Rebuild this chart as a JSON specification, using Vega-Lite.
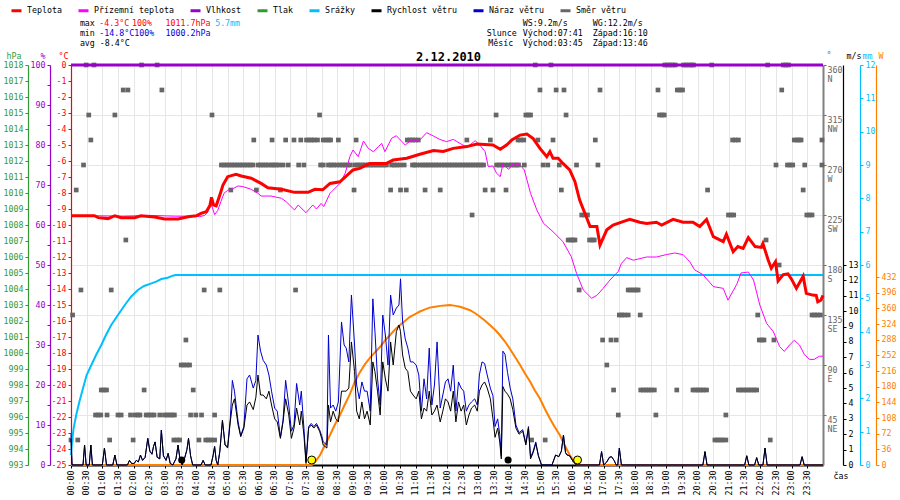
{
"$schema": "https://vega.github.io/schema/vega-lite/v6.json",
"width": 752, "height": 400,
"autosize": {"type": "none"},
"padding": {"left": 71, "top": 65, "right": 77, "bottom": 35},
"background": "#ffffff",
"config": {
  "view": {"stroke": null},
  "font": "DejaVu Sans Mono",
  "axis": {"labelFont": "DejaVu Sans Mono", "labelFontSize": 8.3, "titleFont": "DejaVu Sans Mono", "titleFontSize": 8.3, "titleFontWeight": "normal", "tickSize": 3, "labelPadding": 2, "labelOverlap": false, "labelFlush": false, "grid": false, "domainWidth": 1.2, "tickWidth": 1}
},
"datasets": {
  "hum": [{"m": 0, "h": 100}, {"m": 1440, "h": 100}],
  "pres": [{"m": 0, "hpa": 1005}],
  "rain": [{"m":0,"mm":0.3},{"m":2,"mm":0.7},{"m":5,"mm":1.1},{"m":10,"mm":1.5},{"m":16,"mm":1.9},{"m":23,"mm":2.3},{"m":30,"mm":2.7},{"m":39,"mm":3.0},{"m":48,"mm":3.3},{"m":58,"mm":3.6},{"m":67,"mm":3.9},{"m":77,"mm":4.2},{"m":90,"mm":4.5},{"m":103,"mm":4.8},{"m":115,"mm":5.05},{"m":128,"mm":5.25},{"m":140,"mm":5.37},{"m":154,"mm":5.45},{"m":163,"mm":5.5},{"m":173,"mm":5.58},{"m":185,"mm":5.62},{"m":195,"mm":5.68},{"m":200,"mm":5.7},{"m":1440,"mm":5.7}],
  "sol": [{"m":0,"w":0},{"m":461,"w":0},{"m":468,"w":8},{"m":477,"w":23},{"m":486,"w":45},{"m":496,"w":69},{"m":505,"w":92},{"m":515,"w":115},{"m":524,"w":138},{"m":534,"w":163},{"m":543,"w":190},{"m":553,"w":213},{"m":563,"w":232},{"m":572,"w":246},{"m":582,"w":259},{"m":592,"w":272},{"m":601,"w":286},{"m":611,"w":299},{"m":620,"w":311},{"m":630,"w":322},{"m":640,"w":332},{"m":649,"w":341},{"m":659,"w":347},{"m":668,"w":353},{"m":678,"w":358},{"m":687,"w":362},{"m":697,"w":364},{"m":707,"w":366},{"m":716,"w":367},{"m":726,"w":368},{"m":736,"w":366},{"m":745,"w":364},{"m":755,"w":360},{"m":764,"w":356},{"m":774,"w":349},{"m":783,"w":341},{"m":793,"w":332},{"m":802,"w":322},{"m":812,"w":311},{"m":821,"w":299},{"m":831,"w":284},{"m":840,"w":268},{"m":850,"w":249},{"m":860,"w":230},{"m":869,"w":211},{"m":879,"w":192},{"m":888,"w":172},{"m":898,"w":153},{"m":907,"w":130},{"m":917,"w":107},{"m":926,"w":88},{"m":936,"w":69},{"m":945,"w":46},{"m":955,"w":23},{"m":962,"w":10},{"m":970,"w":0},{"m":1440,"w":0}],
  "sun": [{"m":461,"w":11.5},{"m":970,"w":11.5}],
  "moon": [{"m":212,"w":11.5},{"m":837,"w":11.5}],
  "temp": [{"m":0,"v":-9.42},{"m":20,"v":-9.42},{"m":45,"v":-9.42},{"m":52,"v":-9.54},{"m":71,"v":-9.6},{"m":84,"v":-9.42},{"m":96,"v":-9.54},{"m":122,"v":-9.54},{"m":134,"v":-9.42},{"m":160,"v":-9.5},{"m":179,"v":-9.63},{"m":205,"v":-9.63},{"m":224,"v":-9.48},{"m":240,"v":-9.42},{"m":249,"v":-9.27},{"m":259,"v":-9.17},{"m":266,"v":-8.79},{"m":269,"v":-8.27},{"m":273,"v":-8.75},{"m":278,"v":-8.8},{"m":285,"v":-8.12},{"m":291,"v":-7.5},{"m":300,"v":-6.98},{"m":316,"v":-6.83},{"m":326,"v":-6.94},{"m":345,"v":-7.08},{"m":364,"v":-7.4},{"m":377,"v":-7.67},{"m":403,"v":-7.77},{"m":428,"v":-7.96},{"m":454,"v":-7.96},{"m":467,"v":-7.77},{"m":482,"v":-7.8},{"m":496,"v":-7.4},{"m":515,"v":-7.3},{"m":540,"v":-6.56},{"m":553,"v":-6.46},{"m":572,"v":-6.15},{"m":604,"v":-6.15},{"m":617,"v":-5.94},{"m":643,"v":-5.83},{"m":668,"v":-5.58},{"m":694,"v":-5.35},{"m":713,"v":-5.4},{"m":732,"v":-5.21},{"m":758,"v":-5.1},{"m":777,"v":-4.94},{"m":808,"v":-5.0},{"m":822,"v":-5.27},{"m":834,"v":-5.0},{"m":844,"v":-4.69},{"m":860,"v":-4.38},{"m":873,"v":-4.31},{"m":885,"v":-4.6},{"m":898,"v":-5.21},{"m":911,"v":-5.73},{"m":917,"v":-5.42},{"m":923,"v":-5.83},{"m":933,"v":-5.83},{"m":942,"v":-6.15},{"m":955,"v":-6.56},{"m":965,"v":-7.29},{"m":974,"v":-8.44},{"m":984,"v":-9.27},{"m":994,"v":-10.1},{"m":1007,"v":-10.1},{"m":1013,"v":-11.25},{"m":1026,"v":-10.3},{"m":1038,"v":-10.0},{"m":1057,"v":-9.79},{"m":1070,"v":-9.65},{"m":1089,"v":-9.83},{"m":1102,"v":-9.9},{"m":1121,"v":-9.83},{"m":1131,"v":-10.0},{"m":1153,"v":-9.65},{"m":1172,"v":-9.83},{"m":1191,"v":-9.83},{"m":1204,"v":-10.1},{"m":1217,"v":-9.65},{"m":1230,"v":-10.73},{"m":1249,"v":-11.04},{"m":1255,"v":-10.58},{"m":1268,"v":-11.67},{"m":1277,"v":-11.35},{"m":1287,"v":-11.46},{"m":1297,"v":-10.79},{"m":1310,"v":-11.35},{"m":1322,"v":-11.4},{"m":1325,"v":-11.15},{"m":1335,"v":-12.19},{"m":1341,"v":-12.7},{"m":1349,"v":-12.3},{"m":1354,"v":-13.5},{"m":1364,"v":-13.1},{"m":1373,"v":-13.05},{"m":1380,"v":-13.4},{"m":1389,"v":-13.96},{"m":1402,"v":-13.2},{"m":1408,"v":-14.27},{"m":1420,"v":-14.38},{"m":1427,"v":-14.4},{"m":1430,"v":-14.8},{"m":1436,"v":-14.7},{"m":1440,"v":-14.4}],
  "feel": [{"m":0,"v":-9.4},{"m":100,"v":-9.45},{"m":150,"v":-9.4},{"m":200,"v":-9.45},{"m":240,"v":-9.45},{"m":246,"v":-9.48},{"m":256,"v":-9.4},{"m":262,"v":-9.2},{"m":267,"v":-8.54},{"m":275,"v":-9.35},{"m":281,"v":-9.1},{"m":287,"v":-8.54},{"m":293,"v":-8.02},{"m":300,"v":-7.83},{"m":310,"v":-7.73},{"m":320,"v":-7.56},{"m":329,"v":-7.6},{"m":345,"v":-7.77},{"m":358,"v":-8.02},{"m":364,"v":-8.19},{"m":383,"v":-8.19},{"m":403,"v":-8.33},{"m":412,"v":-8.54},{"m":428,"v":-9.06},{"m":435,"v":-8.75},{"m":450,"v":-9.23},{"m":463,"v":-8.75},{"m":470,"v":-9.0},{"m":479,"v":-8.65},{"m":484,"v":-8.85},{"m":496,"v":-8.02},{"m":515,"v":-7.4},{"m":525,"v":-6.77},{"m":534,"v":-5.73},{"m":540,"v":-5.31},{"m":550,"v":-5.73},{"m":560,"v":-4.75},{"m":569,"v":-5.2},{"m":579,"v":-5.42},{"m":595,"v":-4.9},{"m":601,"v":-5.42},{"m":614,"v":-4.58},{"m":623,"v":-4.42},{"m":640,"v":-5.0},{"m":652,"v":-4.69},{"m":668,"v":-4.69},{"m":681,"v":-4.23},{"m":694,"v":-4.44},{"m":706,"v":-4.65},{"m":719,"v":-4.79},{"m":732,"v":-4.65},{"m":745,"v":-4.9},{"m":758,"v":-5.15},{"m":774,"v":-4.73},{"m":783,"v":-5.0},{"m":793,"v":-5.42},{"m":799,"v":-6.35},{"m":808,"v":-6.31},{"m":815,"v":-6.77},{"m":822,"v":-6.98},{"m":827,"v":-6.19},{"m":838,"v":-6.52},{"m":847,"v":-6.15},{"m":860,"v":-6.25},{"m":868,"v":-6.56},{"m":880,"v":-8.02},{"m":892,"v":-9.06},{"m":905,"v":-9.9},{"m":923,"v":-10.42},{"m":942,"v":-11.04},{"m":958,"v":-11.98},{"m":968,"v":-13.02},{"m":981,"v":-14.06},{"m":997,"v":-14.58},{"m":1007,"v":-14.4},{"m":1019,"v":-13.96},{"m":1032,"v":-13.44},{"m":1048,"v":-12.9},{"m":1054,"v":-12.4},{"m":1064,"v":-12.04},{"m":1077,"v":-12.2},{"m":1102,"v":-12.0},{"m":1121,"v":-12.0},{"m":1140,"v":-11.85},{"m":1156,"v":-11.75},{"m":1172,"v":-11.85},{"m":1185,"v":-12.3},{"m":1194,"v":-12.8},{"m":1210,"v":-13.1},{"m":1230,"v":-13.85},{"m":1249,"v":-13.96},{"m":1258,"v":-14.7},{"m":1275,"v":-13.7},{"m":1283,"v":-13.0},{"m":1297,"v":-12.94},{"m":1307,"v":-13.44},{"m":1319,"v":-15.0},{"m":1332,"v":-16.15},{"m":1345,"v":-16.67},{"m":1357,"v":-17.6},{"m":1366,"v":-17.9},{"m":1376,"v":-17.5},{"m":1385,"v":-17.2},{"m":1395,"v":-17.5},{"m":1404,"v":-18.08},{"m":1414,"v":-18.4},{"m":1423,"v":-18.4},{"m":1433,"v":-18.2},{"m":1440,"v":-18.2}],
  "wind": [{"m":0,"ws":1.7,"wg":2.0},{"m":2,"ws":0,"wg":0},{"m":23,"ws":0,"wg":0},{"m":26,"ws":1.3,"wg":1.3},{"m":29,"ws":0,"wg":0},{"m":35,"ws":0,"wg":0},{"m":38,"ws":1.3,"wg":1.3},{"m":41,"ws":0,"wg":0},{"m":60,"ws":0,"wg":0},{"m":64,"ws":1.1,"wg":1.1},{"m":68,"ws":0,"wg":0},{"m":80,"ws":0,"wg":0},{"m":84,"ws":0.65,"wg":0.65},{"m":88,"ws":0,"wg":0},{"m":108,"ws":0,"wg":0},{"m":112,"ws":0.3,"wg":0.3},{"m":116,"ws":0.1,"wg":0.1},{"m":121,"ws":0.1,"wg":0.1},{"m":125,"ws":0.3,"wg":0.3},{"m":129,"ws":0.2,"wg":0.2},{"m":133,"ws":0.65,"wg":0.65},{"m":137,"ws":0.3,"wg":0.3},{"m":142,"ws":0.5,"wg":0.5},{"m":147,"ws":1.73,"wg":1.73},{"m":151,"ws":0.9,"wg":0.9},{"m":155,"ws":0.7,"wg":0.7},{"m":158,"ws":1.2,"wg":1.2},{"m":161,"ws":1.5,"wg":1.5},{"m":165,"ws":0.5,"wg":0.5},{"m":170,"ws":0.4,"wg":0.4},{"m":173,"ws":2.27,"wg":2.27},{"m":177,"ws":0.6,"wg":0.6},{"m":182,"ws":0.3,"wg":0.3},{"m":186,"ws":0.76,"wg":0.76},{"m":190,"ws":0.1,"wg":0.1},{"m":195,"ws":0,"wg":0},{"m":201,"ws":0.4,"wg":0.4},{"m":205,"ws":1.3,"wg":1.3},{"m":209,"ws":0.3,"wg":0.3},{"m":213,"ws":0,"wg":0},{"m":218,"ws":0.5,"wg":0.5},{"m":222,"ws":1.0,"wg":1.0},{"m":225,"ws":1.73,"wg":1.73},{"m":229,"ws":0.6,"wg":0.6},{"m":233,"ws":0,"wg":0},{"m":249,"ws":0,"wg":0},{"m":253,"ws":0.3,"wg":0.3},{"m":257,"ws":0,"wg":0},{"m":268,"ws":0,"wg":0},{"m":272,"ws":0.6,"wg":0.6},{"m":275,"ws":1.2,"wg":1.2},{"m":278,"ws":0.3,"wg":0.3},{"m":281,"ws":0,"wg":0},{"m":285,"ws":0.87,"wg":0.9},{"m":290,"ws":2.9,"wg":2.9},{"m":295,"ws":1.3,"wg":1.3},{"m":300,"ws":1.1,"wg":1.2},{"m":305,"ws":2.8,"wg":3.0},{"m":309,"ws":3.9,"wg":5.5},{"m":313,"ws":4.3,"wg":4.8},{"m":320,"ws":2.6,"wg":2.8},{"m":325,"ws":1.84,"wg":1.9},{"m":331,"ws":2.4,"wg":2.5},{"m":337,"ws":3.9,"wg":5.6},{"m":342,"ws":4.1,"wg":5.85},{"m":349,"ws":3.6,"wg":5.0},{"m":354,"ws":4.4,"wg":5.5},{"m":358,"ws":5.85,"wg":8.45},{"m":363,"ws":4.55,"wg":7.4},{"m":368,"ws":4.55,"wg":6.8},{"m":374,"ws":4.3,"wg":6.5},{"m":379,"ws":4.8,"wg":5.85},{"m":384,"ws":3.9,"wg":4.8},{"m":390,"ws":3.0,"wg":3.7},{"m":395,"ws":2.8,"wg":3.5},{"m":401,"ws":1.73,"wg":1.8},{"m":406,"ws":2.8,"wg":2.9},{"m":411,"ws":4.3,"wg":5.5},{"m":417,"ws":3.25,"wg":3.9},{"m":422,"ws":1.73,"wg":2.2},{"m":427,"ws":2.4,"wg":2.6},{"m":432,"ws":3.7,"wg":5.3},{"m":438,"ws":2.6,"wg":3.9},{"m":441,"ws":3.5,"wg":4.8},{"m":446,"ws":1.95,"wg":2.4},{"m":450,"ws":0.1,"wg":0.2},{"m":455,"ws":2.4,"wg":2.5},{"m":460,"ws":2.6,"wg":2.7},{"m":465,"ws":2.4,"wg":2.5},{"m":470,"ws":2.6,"wg":2.7},{"m":476,"ws":2.2,"wg":2.3},{"m":480,"ws":1.73,"wg":1.9},{"m":483,"ws":1.3,"wg":1.5},{"m":490,"ws":1.1,"wg":1.3},{"m":493,"ws":3.9,"wg":8.45},{"m":497,"ws":2.8,"wg":3.7},{"m":502,"ws":3.5,"wg":3.9},{"m":507,"ws":3.0,"wg":3.5},{"m":512,"ws":2.8,"wg":4.1},{"m":518,"ws":4.8,"wg":9.3},{"m":523,"ws":4.8,"wg":7.8},{"m":527,"ws":4.8,"wg":7.6},{"m":532,"ws":5.0,"wg":6.7},{"m":537,"ws":8.0,"wg":11.05},{"m":543,"ws":6.07,"wg":7.8},{"m":547,"ws":3.5,"wg":5.2},{"m":552,"ws":3.0,"wg":4.3},{"m":557,"ws":4.1,"wg":5.4},{"m":562,"ws":3.0,"wg":4.8},{"m":567,"ws":3.5,"wg":4.8},{"m":573,"ws":2.6,"wg":3.5},{"m":578,"ws":6.7,"wg":10.8},{"m":582,"ws":6.07,"wg":8.7},{"m":587,"ws":4.8,"wg":5.6},{"m":592,"ws":3.25,"wg":3.9},{"m":597,"ws":6.7,"wg":9.75},{"m":602,"ws":5.6,"wg":8.45},{"m":607,"ws":4.8,"wg":6.5},{"m":612,"ws":8.0,"wg":11.05},{"m":617,"ws":6.5,"wg":9.75},{"m":623,"ws":8.67,"wg":10.2},{"m":628,"ws":9.1,"wg":10.4},{"m":631,"ws":8.67,"wg":12.1},{"m":635,"ws":7.15,"wg":9.3},{"m":640,"ws":6.3,"wg":8.2},{"m":645,"ws":6.07,"wg":7.6},{"m":650,"ws":4.8,"wg":6.7},{"m":655,"ws":4.55,"wg":6.7},{"m":661,"ws":4.3,"wg":6.5},{"m":666,"ws":4.8,"wg":5.85},{"m":671,"ws":3.0,"wg":3.5},{"m":676,"ws":3.7,"wg":5.6},{"m":681,"ws":3.5,"wg":4.3},{"m":686,"ws":4.8,"wg":7.6},{"m":691,"ws":3.25,"wg":3.9},{"m":696,"ws":3.5,"wg":5.2},{"m":701,"ws":3.9,"wg":8.0},{"m":707,"ws":2.8,"wg":3.7},{"m":712,"ws":3.5,"wg":4.55},{"m":717,"ws":4.3,"wg":5.4},{"m":722,"ws":4.1,"wg":5.6},{"m":727,"ws":3.5,"wg":4.8},{"m":732,"ws":4.8,"wg":6.5},{"m":737,"ws":2.8,"wg":3.5},{"m":742,"ws":4.1,"wg":5.4},{"m":747,"ws":3.5,"wg":5.0},{"m":752,"ws":3.9,"wg":4.8},{"m":757,"ws":2.6,"wg":3.5},{"m":762,"ws":3.25,"wg":3.9},{"m":767,"ws":3.7,"wg":4.1},{"m":773,"ws":3.9,"wg":4.3},{"m":778,"ws":3.5,"wg":3.9},{"m":782,"ws":4.8,"wg":5.85},{"m":787,"ws":5.2,"wg":6.7},{"m":792,"ws":5.4,"wg":6.6},{"m":797,"ws":5.0,"wg":5.85},{"m":803,"ws":4.3,"wg":5.0},{"m":808,"ws":3.0,"wg":4.5},{"m":812,"ws":1.8,"wg":2.5},{"m":817,"ws":2.4,"wg":3.0},{"m":821,"ws":1.5,"wg":2.0},{"m":824,"ws":0.4,"wg":0.6},{"m":827,"ws":5.1,"wg":7.4},{"m":831,"ws":4.8,"wg":7.2},{"m":836,"ws":4.6,"wg":6.0},{"m":841,"ws":4.3,"wg":5.0},{"m":846,"ws":3.6,"wg":4.3},{"m":852,"ws":2.4,"wg":2.6},{"m":858,"ws":2.0,"wg":2.1},{"m":865,"ws":2.2,"wg":2.3},{"m":871,"ws":1.3,"wg":1.4},{"m":876,"ws":2.4,"wg":2.5},{"m":880,"ws":0.4,"wg":0.5},{"m":885,"ws":0.8,"wg":0.9},{"m":890,"ws":1.4,"wg":1.5},{"m":895,"ws":0.6,"wg":0.6},{"m":901,"ws":0,"wg":0},{"m":921,"ws":0,"wg":0},{"m":928,"ws":0.65,"wg":0.65},{"m":934,"ws":0.54,"wg":0.54},{"m":939,"ws":0.9,"wg":0.9},{"m":943,"ws":1.95,"wg":1.95},{"m":947,"ws":0.8,"wg":0.8},{"m":950,"ws":0.65,"wg":0.65},{"m":955,"ws":0.6,"wg":0.6},{"m":962,"ws":0.2,"wg":0.2},{"m":968,"ws":0,"wg":0},{"m":1012,"ws":0,"wg":0},{"m":1016,"ws":0.87,"wg":0.87},{"m":1020,"ws":0,"wg":0},{"m":1026,"ws":0.2,"wg":0.2},{"m":1031,"ws":0.5,"wg":0.5},{"m":1035,"ws":0.54,"wg":0.54},{"m":1040,"ws":0.3,"wg":0.3},{"m":1044,"ws":0,"wg":0},{"m":1047,"ws":0,"wg":0},{"m":1050,"ws":1.1,"wg":1.1},{"m":1054,"ws":0,"wg":0},{"m":1210,"ws":0,"wg":0},{"m":1214,"ws":0.87,"wg":0.87},{"m":1218,"ws":0,"wg":0},{"m":1290,"ws":0,"wg":0},{"m":1294,"ws":0.6,"wg":0.6},{"m":1298,"ws":0,"wg":0},{"m":1309,"ws":0,"wg":0},{"m":1313,"ws":0.48,"wg":0.48},{"m":1317,"ws":0,"wg":0},{"m":1325,"ws":0,"wg":0},{"m":1329,"ws":1.1,"wg":1.1},{"m":1333,"ws":0,"wg":0},{"m":1396,"ws":0,"wg":0},{"m":1400,"ws":0.54,"wg":0.54},{"m":1404,"ws":0,"wg":0},{"m":1440,"ws":0,"wg":0}],
  "dir": [{"m":0,"d":22.5},{"m":3,"d":135},{"m":10,"d":247.5},{"m":13,"d":22.5},{"m":19,"d":157.5},{"m":24,"d":270},{"m":29,"d":360},{"m":34,"d":315},{"m":38,"d":292.5},{"m":44,"d":360},{"m":47,"d":45},{"m":52,"d":45},{"m":57,"d":45},{"m":58,"d":67.5},{"m":63,"d":67.5},{"m":68,"d":67.5},{"m":69,"d":45},{"m":74,"d":22.5},{"m":77,"d":157.5},{"m":84,"d":315},{"m":90,"d":45},{"m":96,"d":45},{"m":100,"d":337.5},{"m":105,"d":202.5},{"m":109,"d":337.5},{"m":114,"d":45},{"m":119,"d":22.5},{"m":123,"d":45},{"m":128,"d":45},{"m":132,"d":45},{"m":135,"d":360},{"m":140,"d":67.5},{"m":144,"d":45},{"m":149,"d":45},{"m":154,"d":45},{"m":159,"d":45},{"m":165,"d":360},{"m":170,"d":45},{"m":174,"d":337.5},{"m":179,"d":45},{"m":184,"d":45},{"m":189,"d":45},{"m":194,"d":45},{"m":198,"d":45},{"m":197,"d":22.5},{"m":203,"d":22.5},{"m":208,"d":22.5},{"m":211,"d":90},{"m":216,"d":90},{"m":220,"d":112.5},{"m":222,"d":90},{"m":227,"d":90},{"m":229,"d":45},{"m":234,"d":67.5},{"m":239,"d":45},{"m":245,"d":22.5},{"m":250,"d":45},{"m":255,"d":157.5},{"m":258,"d":22.5},{"m":263,"d":22.5},{"m":268,"d":22.5},{"m":270,"d":315},{"m":275,"d":22.5},{"m":275,"d":45},{"m":285,"d":157.5},{"m":288,"d":270},{"m":293,"d":270},{"m":298,"d":270},{"m":303,"d":270},{"m":308,"d":270},{"m":313,"d":270},{"m":318,"d":270},{"m":323,"d":270},{"m":328,"d":270},{"m":333,"d":270},{"m":338,"d":270},{"m":343,"d":270},{"m":348,"d":270},{"m":306,"d":247.5},{"m":350,"d":292.5},{"m":355,"d":247.5},{"m":358,"d":270},{"m":363,"d":270},{"m":368,"d":270},{"m":373,"d":270},{"m":378,"d":270},{"m":384,"d":270},{"m":388,"d":270},{"m":393,"d":270},{"m":398,"d":270},{"m":406,"d":270},{"m":416,"d":270},{"m":436,"d":270},{"m":446,"d":270},{"m":385,"d":292.5},{"m":401,"d":247.5},{"m":411,"d":292.5},{"m":427,"d":292.5},{"m":430,"d":157.5},{"m":440,"d":292.5},{"m":451,"d":292.5},{"m":456,"d":292.5},{"m":461,"d":292.5},{"m":466,"d":292.5},{"m":472,"d":292.5},{"m":476,"d":315},{"m":478,"d":270},{"m":483,"d":270},{"m":483,"d":292.5},{"m":488,"d":292.5},{"m":493,"d":292.5},{"m":497,"d":292.5},{"m":512,"d":292.5},{"m":546,"d":292.5},{"m":493,"d":270},{"m":498,"d":270},{"m":503,"d":270},{"m":509,"d":270},{"m":515,"d":270},{"m":520,"d":270},{"m":525,"d":270},{"m":530,"d":270},{"m":535,"d":270},{"m":544,"d":270},{"m":549,"d":270},{"m":554,"d":270},{"m":559,"d":270},{"m":564,"d":270},{"m":569,"d":270},{"m":574,"d":270},{"m":579,"d":270},{"m":584,"d":270},{"m":589,"d":270},{"m":594,"d":270},{"m":599,"d":270},{"m":604,"d":270},{"m":614,"d":270},{"m":619,"d":270},{"m":624,"d":270},{"m":630,"d":270},{"m":638,"d":270},{"m":654,"d":270},{"m":658,"d":270},{"m":662,"d":270},{"m":669,"d":270},{"m":674,"d":270},{"m":679,"d":270},{"m":684,"d":270},{"m":689,"d":270},{"m":694,"d":270},{"m":699,"d":270},{"m":704,"d":270},{"m":710,"d":270},{"m":715,"d":270},{"m":720,"d":270},{"m":725,"d":270},{"m":730,"d":270},{"m":735,"d":270},{"m":740,"d":270},{"m":745,"d":270},{"m":750,"d":270},{"m":755,"d":270},{"m":760,"d":270},{"m":765,"d":270},{"m":770,"d":270},{"m":775,"d":270},{"m":780,"d":270},{"m":785,"d":270},{"m":790,"d":270},{"m":815,"d":270},{"m":820,"d":270},{"m":825,"d":270},{"m":831,"d":270},{"m":838,"d":270},{"m":843,"d":270},{"m":848,"d":270},{"m":853,"d":270},{"m":857,"d":270},{"m":868,"d":270},{"m":904,"d":270},{"m":913,"d":270},{"m":935,"d":270},{"m":644,"d":292.5},{"m":649,"d":292.5},{"m":654,"d":292.5},{"m":659,"d":292.5},{"m":665,"d":292.5},{"m":758,"d":292.5},{"m":803,"d":292.5},{"m":856,"d":292.5},{"m":861,"d":292.5},{"m":867,"d":292.5},{"m":894,"d":292.5},{"m":923,"d":292.5},{"m":542,"d":247.5},{"m":612,"d":247.5},{"m":631,"d":247.5},{"m":642,"d":247.5},{"m":678,"d":247.5},{"m":707,"d":247.5},{"m":793,"d":247.5},{"m":808,"d":247.5},{"m":833,"d":247.5},{"m":939,"d":247.5},{"m":768,"d":225},{"m":814,"d":315},{"m":871,"d":315},{"m":876,"d":315},{"m":880,"d":315},{"m":948,"d":315},{"m":898,"d":337.5},{"m":929,"d":337.5},{"m":944,"d":337.5},{"m":889,"d":360},{"m":919,"d":360},{"m":952,"d":202.5},{"m":957,"d":202.5},{"m":961,"d":202.5},{"m":965,"d":202.5},{"m":882,"d":22.5},{"m":908,"d":22.5},{"m":968,"d":270},{"m":1009,"d":270},{"m":1350,"d":270},{"m":1372,"d":270},{"m":1377,"d":270},{"m":1382,"d":270},{"m":1405,"d":270},{"m":1438,"d":270},{"m":973,"d":157.5},{"m":1067,"d":157.5},{"m":1072,"d":157.5},{"m":1077,"d":157.5},{"m":1082,"d":157.5},{"m":1086,"d":157.5},{"m":978,"d":225},{"m":984,"d":225},{"m":989,"d":225},{"m":1259,"d":225},{"m":1264,"d":225},{"m":1269,"d":225},{"m":1409,"d":225},{"m":1414,"d":225},{"m":1419,"d":225},{"m":993,"d":202.5},{"m":998,"d":202.5},{"m":1002,"d":202.5},{"m":1331,"d":202.5},{"m":1004,"d":292.5},{"m":1267,"d":292.5},{"m":1272,"d":292.5},{"m":1278,"d":292.5},{"m":1385,"d":292.5},{"m":1390,"d":292.5},{"m":1394,"d":292.5},{"m":1398,"d":292.5},{"m":1438,"d":292.5},{"m":1013,"d":337.5},{"m":1124,"d":337.5},{"m":1161,"d":337.5},{"m":1166,"d":337.5},{"m":1171,"d":337.5},{"m":1361,"d":337.5},{"m":1018,"d":112.5},{"m":1034,"d":112.5},{"m":1044,"d":112.5},{"m":1318,"d":112.5},{"m":1323,"d":112.5},{"m":1327,"d":112.5},{"m":1346,"d":112.5},{"m":1026,"d":90},{"m":1039,"d":67.5},{"m":1091,"d":67.5},{"m":1096,"d":67.5},{"m":1101,"d":67.5},{"m":1106,"d":67.5},{"m":1111,"d":67.5},{"m":1117,"d":67.5},{"m":1160,"d":67.5},{"m":1191,"d":67.5},{"m":1196,"d":67.5},{"m":1201,"d":67.5},{"m":1206,"d":67.5},{"m":1211,"d":67.5},{"m":1217,"d":67.5},{"m":1278,"d":67.5},{"m":1283,"d":67.5},{"m":1288,"d":67.5},{"m":1293,"d":67.5},{"m":1298,"d":67.5},{"m":1303,"d":67.5},{"m":1308,"d":67.5},{"m":1313,"d":67.5},{"m":1048,"d":45},{"m":1120,"d":45},{"m":1254,"d":45},{"m":1050,"d":135},{"m":1055,"d":135},{"m":1060,"d":135},{"m":1067,"d":135},{"m":1090,"d":135},{"m":1315,"d":135},{"m":1419,"d":135},{"m":1424,"d":135},{"m":1429,"d":135},{"m":1435,"d":135},{"m":1127,"d":315},{"m":1132,"d":315},{"m":1136,"d":315},{"m":1137,"d":360},{"m":1142,"d":360},{"m":1147,"d":360},{"m":1152,"d":360},{"m":1157,"d":360},{"m":1173,"d":360},{"m":1178,"d":360},{"m":1183,"d":360},{"m":1188,"d":360},{"m":1192,"d":360},{"m":1227,"d":360},{"m":1334,"d":360},{"m":1364,"d":360},{"m":1369,"d":360},{"m":1374,"d":360},{"m":1219,"d":247.5},{"m":1402,"d":247.5},{"m":1233,"d":22.5},{"m":1238,"d":22.5},{"m":1243,"d":22.5},{"m":1248,"d":22.5},{"m":1254,"d":22.5},{"m":1339,"d":22.5},{"m":1356,"d":180}],
  "txtBlack": [{"label":"max","m":17,"v":2.54},{"label":"min","m":17,"v":1.92},{"label":"avg -8.4°C","m":17,"v":1.31},{"label":"WS:9.2m/s","m":865,"v":2.54},{"label":"WG:12.2m/s","m":999,"v":2.54},{"label":"Slunce","m":796,"v":1.92},{"label":"Východ:07:41","m":865,"v":1.92},{"label":"Západ:16:10","m":999,"v":1.92},{"label":"Měsíc","m":799,"v":1.31},{"label":"Východ:03:45","m":865,"v":1.31},{"label":"Západ:13:46","m":999,"v":1.31}],
  "txtRed": [{"label":"-4.3°C","m":54,"v":2.54},{"label":"100%","m":117,"v":2.54},{"label":"1011.7hPa","m":181,"v":2.54}],
  "txtBlue": [{"label":"-14.8°C100%","m":54,"v":1.92},{"label":"1000.2hPa","m":181,"v":1.92}],
  "txtCyan": [{"label":"5.7mm","m":276,"v":2.54}],
  "txtTitle": [{"label":"2.12.2010","m":723,"v":0.5}]
},
"encoding": {
  "x": {"field": "m", "type": "quantitative", "scale": {"domain": [0, 1440], "nice": false, "zero": false},
    "axis": {"values": [0,30,60,90,120,150,180,210,240,270,300,330,360,390,420,450,480,510,540,570,600,630,660,690,720,750,780,810,840,870,900,930,960,990,1020,1050,1080,1110,1140,1170,1200,1230,1260,1290,1320,1350,1380,1410],
      "labelExpr": "(datum.value < 600 ? '0' : '') + floor(datum.value / 60) + ':' + (datum.value % 60 == 0 ? '00' : '30')",
      "labelAngle": 270, "labelAlign": "right", "labelBaseline": "middle", "labelColor": "#000000",
      "grid": true, "gridColor": "#e6e6e6", "gridWidth": 1, "domainColor": "#000000", "domainWidth": 2, "tickColor": "#000000",
      "title": "čas", "titleX": 762, "titleY": 11, "titleAlign": "left", "titleBaseline": "middle", "titleAngle": 0, "titleColor": "#000000"}}
},
"layer": [
  {"data": {"name": "dir"},
   "mark": {"type": "square", "filled": true, "size": 22, "opacity": 1, "color": "#666666"},
   "encoding": {"y": {"field": "d", "type": "quantitative", "scale": {"domain": [0, 360], "nice": false, "zero": false},
     "axis": {"orient": "right", "offset": 0, "values": [45,90,135,180,225,270,315,360], "grid": true, "gridColor": "#e6e6e6", "gridWidth": 1,
       "labelExpr": "[datum.value + '', datum.value == 360 ? 'N' : datum.value == 315 ? 'NW' : datum.value == 270 ? 'W' : datum.value == 225 ? 'SW' : datum.value == 180 ? 'S' : datum.value == 135 ? 'SE' : datum.value == 90 ? 'E' : 'NE']",
       "labelColor": "#666666", "tickColor": "#666666", "domainColor": "#808080", "domainWidth": 2, "labelBaseline": "top", "labelDy": -5, "labelLineHeight": 9, "labelPadding": 1,
       "title": "°", "titleColor": "#666666", "titleAngle": 0, "titleAlign": "left", "titleBaseline": "alphabetic", "titleX": 3, "titleY": -8}}}},
  {"data": {"name": "pres"},
   "mark": {"type": "point", "opacity": 0},
   "encoding": {"y": {"field": "hpa", "type": "quantitative", "scale": {"domain": [993, 1018], "nice": false, "zero": false},
     "axis": {"orient": "left", "offset": 43, "values": [993,994,995,996,997,998,999,1000,1001,1002,1003,1004,1005,1006,1007,1008,1009,1010,1011,1012,1013,1014,1015,1016,1017,1018],
       "labelExpr": "datum.value + ''", "labelColor": "#339933", "tickColor": "#339933", "domainColor": "#339933",
       "title": "hPa", "titleColor": "#339933", "titleAngle": 0, "titleAlign": "right", "titleBaseline": "alphabetic", "titleX": -7, "titleY": -7}}}},
  {"data": {"name": "sol"},
   "mark": {"type": "line", "color": "#ff8000", "strokeWidth": 2},
   "encoding": {"y": {"field": "w", "type": "quantitative", "scale": {"domain": [0, 920], "nice": false, "zero": false},
     "axis": {"orient": "right", "offset": 53, "values": [0,36,72,108,144,180,216,252,288,324,360,396,432],
       "labelExpr": "datum.value + ''", "labelColor": "#ff8000", "tickColor": "#ff8000", "domainColor": "#ff8000",
       "title": "W", "titleColor": "#ff8000", "titleAngle": 0, "titleAlign": "left", "titleBaseline": "alphabetic", "titleX": 2, "titleY": -7}}}},
  {"data": {"name": "rain"},
   "mark": {"type": "line", "strokeWidth": 2},
   "encoding": {"y": {"field": "mm", "type": "quantitative", "scale": {"domain": [0, 12], "nice": false, "zero": false},
     "axis": {"orient": "right", "offset": 37, "values": [0,1,2,3,4,5,6,7,8,9,10,11,12],
       "labelExpr": "datum.value + ''", "labelColor": "#00bfff", "tickColor": "#00bfff", "domainColor": "#00bfff",
       "title": "mm", "titleColor": "#00bfff", "titleAngle": 0, "titleAlign": "left", "titleBaseline": "alphabetic", "titleX": 2, "titleY": -7}},
     "color": {"datum": "Srážky",
       "scale": {"domain": ["Teplota", "Přízemní teplota", "Vlhkost", "Tlak", "Srážky", "Rychlost větru", "Náraz větru", "Směr větru"],
                 "range": ["#ff0000", "#ff00ff", "#9900cc", "#339933", "#00bfff", "#000000", "#0000cc", "#666666"]},
       "legend": {"orient": "none", "legendX": -61, "legendY": -61, "direction": "horizontal", "columns": 8, "title": null,
         "symbolType": "stroke", "symbolStrokeWidth": 3, "symbolSize": 100, "labelFont": "DejaVu Sans Mono", "labelFontSize": 8.3,
         "labelColor": "#000000", "labelOffset": 4, "columnPadding": 10, "padding": 0}}}},
  {"data": {"name": "hum"},
   "mark": {"type": "line", "strokeWidth": 3},
   "encoding": {"y": {"field": "h", "type": "quantitative", "scale": {"domain": [0, 100], "nice": false, "zero": false},
     "axis": {"orient": "left", "offset": 21, "values": [0,5,10,15,20,25,30,35,40,45,50,55,60,65,70,75,80,85,90,95,100],
       "labelExpr": "datum.value % 10 == 0 ? datum.value + '' : ''", "labelColor": "#9900cc", "tickColor": "#9900cc", "domainColor": "#9900cc",
       "title": "%", "titleColor": "#9900cc", "titleAngle": 0, "titleAlign": "right", "titleBaseline": "alphabetic", "titleX": -5, "titleY": -7}},
     "color": {"datum": "Vlhkost"}}},
  {"encoding": {"y": {"field": "v", "type": "quantitative", "scale": {"domain": [-25, 0], "nice": false, "zero": false},
     "axis": {"orient": "left", "offset": 0, "values": [-25,-24,-23,-22,-21,-20,-19,-18,-17,-16,-15,-14,-13,-12,-11,-10,-9,-8,-7,-6,-5,-4,-3,-2,-1,0],
       "labelExpr": "datum.value + ''", "labelColor": "#ff0000", "tickColor": "#ff0000", "domainColor": "#ff0000",
       "title": "°C", "titleColor": "#ff0000", "titleAngle": 0, "titleAlign": "right", "titleBaseline": "alphabetic", "titleX": -3, "titleY": -7}}},
   "layer": [
     {"data": {"name": "feel"}, "mark": {"type": "line", "strokeWidth": 1}, "encoding": {"color": {"datum": "Přízemní teplota"}}},
     {"data": {"name": "temp"}, "mark": {"type": "line", "strokeWidth": 3}, "encoding": {"color": {"datum": "Teplota"}}},
     {"data": {"name": "txtBlack"}, "mark": {"type": "text", "align": "left", "baseline": "middle", "font": "DejaVu Sans Mono", "fontSize": 8.3, "color": "#000000"}, "encoding": {"text": {"field": "label"}}},
     {"data": {"name": "txtRed"}, "mark": {"type": "text", "align": "left", "baseline": "middle", "font": "DejaVu Sans Mono", "fontSize": 8.3, "color": "#ff0000"}, "encoding": {"text": {"field": "label"}}},
     {"data": {"name": "txtBlue"}, "mark": {"type": "text", "align": "left", "baseline": "middle", "font": "DejaVu Sans Mono", "fontSize": 8.3, "color": "#0000dd"}, "encoding": {"text": {"field": "label"}}},
     {"data": {"name": "txtCyan"}, "mark": {"type": "text", "align": "left", "baseline": "middle", "font": "DejaVu Sans Mono", "fontSize": 8.3, "color": "#00bfff"}, "encoding": {"text": {"field": "label"}}},
     {"data": {"name": "txtTitle"}, "mark": {"type": "text", "align": "center", "baseline": "middle", "font": "DejaVu Sans Mono", "fontSize": 12, "fontWeight": "bold", "color": "#000000"}, "encoding": {"text": {"field": "label"}}}
   ]},
  {"data": {"name": "wind"},
   "layer": [
     {"mark": {"type": "line", "strokeWidth": 1},
      "encoding": {"y": {"field": "wg", "type": "quantitative", "scale": {"domain": [0, 26], "nice": false, "zero": false},
        "axis": {"orient": "right", "offset": 20, "values": [0,1,2,3,4,5,6,7,8,9,10,11,12,13],
          "labelExpr": "datum.value + ''", "labelColor": "#000000", "tickColor": "#000000", "domainColor": "#000000",
          "title": "m/s", "titleColor": "#000000", "titleAngle": 0, "titleAlign": "left", "titleBaseline": "alphabetic", "titleX": 3, "titleY": -7}},
        "color": {"datum": "Náraz větru"}}},
     {"mark": {"type": "line", "strokeWidth": 1},
      "encoding": {"y": {"field": "ws", "type": "quantitative", "scale": {"domain": [0, 26], "nice": false, "zero": false},
        "axis": {"orient": "right", "offset": 20, "values": [0,1,2,3,4,5,6,7,8,9,10,11,12,13],
          "labelExpr": "datum.value + ''", "labelColor": "#000000", "tickColor": "#000000", "domainColor": "#000000",
          "title": "m/s", "titleColor": "#000000", "titleAngle": 0, "titleAlign": "left", "titleBaseline": "alphabetic", "titleX": 3, "titleY": -7}},
        "color": {"datum": "Rychlost větru"}}}
   ]},
  {"encoding": {"y": {"field": "w", "type": "quantitative", "scale": {"domain": [0, 920], "nice": false, "zero": false}, "axis": null}},
   "layer": [
     {"data": {"name": "sun"}, "mark": {"type": "point", "shape": "circle", "filled": true, "fill": "#ffff00", "stroke": "#000000", "strokeWidth": 1, "size": 64, "opacity": 1}},
     {"data": {"name": "moon"}, "mark": {"type": "point", "shape": "circle", "filled": true, "fill": "#000000", "size": 50, "opacity": 1}}
   ]}
],
"resolve": {"scale": {"y": "independent"}}
}
